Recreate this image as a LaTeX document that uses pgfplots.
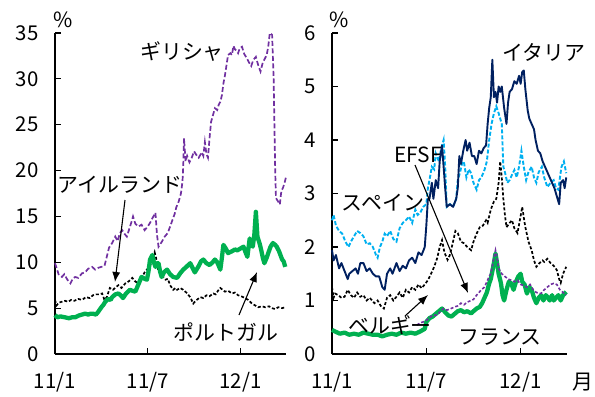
\documentclass[border=0pt]{standalone}
\usepackage{pgfplots}
\pgfplotsset{compat=1.18}
\usetikzlibrary{arrows.meta}
\usepackage{fontspec}
\setmainfont{Noto Sans CJK JP}
\definecolor{grpurple}{HTML}{7030A0}
\definecolor{ptgreen}{HTML}{00B050}
\definecolor{itnavy}{HTML}{002060}
\definecolor{esblue}{HTML}{00B0F0}
\pgfplotsset{
  common/.style={
    scale only axis,
    axis x line*=bottom, axis y line*=left,
    axis line style={line width=1.3bp, black},
    tick style={line width=1.2bp, black},
    tick align=inside, major tick length=6bp,
    enlargelimits=false, clip=false,
    xmin=0, xmax=14.95,
    xtick={0,6,12}, xticklabels={11/1,11/7,12/1},
    /pgf/number format/assume math mode=true,
    ticklabel style={font=\fontsize{20.5}{24}\selectfont},
    xticklabel style={anchor=center, yshift=-28bp},
    yticklabel style={anchor=east, xshift=-13bp},
  }
}
\begin{document}
\begin{tikzpicture}[x=1bp,y=1bp]
\useasboundingbox (0,0) rectangle (595,396);
% ---------- left panel ----------
\begin{axis}[common, at={(55bp,42bp)}, anchor=origin, width=231bp, height=321bp,
  ymin=0, ymax=35, ytick={0,5,...,35}]
\addplot[grpurple, line width=1.7bp, dash pattern=on 5bp off 2.5bp] coordinates {
(0,9.9)(0.1,9.4)(0.25,8.6)(0.45,8.4)(0.6,8.7)(0.8,8.1)(1.0,7.7)(1.15,8.2)(1.3,8.4)(1.5,8.3)(1.75,8.8)(1.95,8.9)(2.15,9.3)(2.4,9.5)(2.6,9.2)(2.8,9.4)(3.0,9.5)(3.2,9.6)(3.35,10.6)(3.5,11.6)(3.7,12.1)(3.9,12.8)(4.05,12.3)(4.2,13.2)(4.35,13.5)(4.5,13.1)(4.65,12.8)(4.8,13.6)(4.95,14.4)(5.05,15.0)(5.2,14.2)(5.4,13.9)(5.6,14.1)(5.8,13.5)(6.0,13.9)(6.15,14.3)(6.3,14.8)(6.5,15.4)(6.6,13.0)(6.7,11.7)(6.9,12.2)(7.1,12.8)(7.3,13.2)(7.45,13.9)(7.6,14.6)(7.75,15.3)(7.85,16.0)(8.0,16.6)(8.15,17.5)(8.25,18.8)(8.3,20.5)(8.35,23.5)(8.45,21.0)(8.55,21.6)(8.7,20.9)(8.85,21.4)(9.0,22.1)(9.15,21.7)(9.3,21.4)(9.5,22.0)(9.6,21.6)(9.7,23.1)(9.8,21.8)(9.9,21.4)(10.0,23.5)(10.1,25.3)(10.25,26.2)(10.35,26.8)(10.5,26.6)(10.6,27.2)(10.7,27.5)(10.8,28.2)(10.9,29.5)(11.0,30.4)(11.1,31.5)(11.2,32.6)(11.35,32.8)(11.45,32.6)(11.55,33.6)(11.65,33.2)(11.75,33.1)(11.85,32.8)(11.95,33.3)(12.1,33.5)(12.25,32.7)(12.4,32.3)(12.55,31.8)(12.7,31.4)(12.8,31.9)(12.9,32.2)(13.0,32.4)(13.15,31.5)(13.3,30.8)(13.45,31.8)(13.55,32.1)(13.7,32.6)(13.8,33.5)(13.9,35.0)(14.05,34.8)(14.15,30.0)(14.25,20.0)(14.3,17.0)(14.45,16.6)(14.55,16.3)(14.65,17.8)(14.75,18.1)(14.85,18.6)(14.95,19.3)
};
\addplot[black, line width=1.7bp, dash pattern=on 3bp off 2bp] coordinates {
(0,5.9)(0.1,5.3)(0.25,5.6)(0.45,5.7)(0.65,5.8)(0.85,5.7)(1.05,5.9)(1.25,5.8)(1.5,6.0)(1.75,5.9)(2.0,6.2)(2.25,6.1)(2.45,6.4)(2.65,6.5)(2.85,6.5)(3.05,6.6)(3.2,5.9)(3.35,6.2)(3.55,7.2)(3.75,7.0)(3.95,7.3)(4.1,7.5)(4.3,7.2)(4.55,7.7)(4.75,7.9)(4.9,8.1)(5.0,8.3)(5.2,7.9)(5.4,7.7)(5.6,8.3)(5.8,8.9)(6.0,9.3)(6.15,9.6)(6.3,10.3)(6.45,11.1)(6.55,10.4)(6.65,9.3)(6.8,8.8)(7.0,8.4)(7.15,8.1)(7.3,8.2)(7.45,7.5)(7.65,7.0)(7.8,7.2)(7.9,7.0)(8.1,7.2)(8.3,7.0)(8.5,6.7)(8.75,6.2)(8.95,5.5)(9.1,5.8)(9.25,6.0)(9.4,6.2)(9.6,6.1)(9.8,6.4)(10.0,6.3)(10.25,6.6)(10.4,6.5)(10.55,6.9)(10.7,7.2)(10.85,7.0)(11.0,6.8)(11.2,6.9)(11.45,6.6)(11.65,6.7)(11.85,6.4)(12.05,6.3)(12.3,6.1)(12.5,5.9)(12.75,5.5)(12.95,5.3)(13.15,5.1)(13.4,5.2)(13.6,5.1)(13.85,5.2)(14.05,5.0)(14.25,4.9)(14.45,5.1)(14.7,5.0)(14.9,5.1)
};
\addplot[ptgreen, line width=4.3bp, line join=round] coordinates {
(0,4.25)(0.15,4.0)(0.35,4.1)(0.65,4.0)(0.9,3.9)(1.1,4.0)(1.3,4.0)(1.55,4.2)(1.75,4.3)(1.95,4.4)(2.15,4.3)(2.3,4.4)(2.45,4.4)(2.65,4.3)(2.8,4.6)(3.0,5.1)(3.15,5.4)(3.25,5.7)(3.45,6.0)(3.6,5.9)(3.7,6.2)(3.9,6.5)(4.1,6.6)(4.25,6.4)(4.4,6.1)(4.6,6.6)(4.85,7.0)(5.0,6.9)(5.2,6.8)(5.4,7.6)(5.6,8.4)(5.8,8.2)(5.95,8.1)(6.05,9.0)(6.15,10.3)(6.3,10.8)(6.4,10.0)(6.5,9.5)(6.6,9.9)(6.7,9.9)(6.8,9.0)(6.9,8.4)(7.05,8.9)(7.25,9.2)(7.45,8.7)(7.65,8.4)(7.9,8.3)(8.1,8.8)(8.3,9.2)(8.5,9.5)(8.75,9.9)(8.9,9.4)(9.05,8.9)(9.3,9.6)(9.45,10.1)(9.6,10.3)(9.8,9.9)(10.0,9.7)(10.2,10.0)(10.35,10.3)(10.5,10.0)(10.7,9.2)(10.8,10.5)(10.9,11.9)(11.05,11.5)(11.2,11.0)(11.45,11.2)(11.65,11.4)(11.8,11.3)(12.0,11.5)(12.2,11.7)(12.35,11.0)(12.45,10.6)(12.6,12.6)(12.7,12.0)(12.8,11.7)(12.9,13.0)(13.0,15.5)(13.1,12.8)(13.25,12.0)(13.35,11.3)(13.45,10.5)(13.55,9.9)(13.7,10.5)(13.8,11.0)(13.95,11.7)(14.1,12.1)(14.25,11.9)(14.35,11.7)(14.5,11.2)(14.7,10.3)(14.8,10.1)(14.9,9.5)
};
\end{axis}
% ---------- right panel ----------
\begin{axis}[common, at={(332bp,42bp)}, anchor=origin, width=235bp, height=321bp,
  ymin=0, ymax=6, ytick={0,1,...,6}]
\addplot[esblue, line width=1.9bp, dash pattern=on 4bp off 2bp] coordinates {
(0,2.5)(0.1,2.6)(0.25,2.4)(0.45,2.3)(0.65,2.25)(0.85,2.1)(1.05,2.0)(1.2,2.1)(1.4,2.2)(1.6,2.3)(1.8,2.26)(2.0,2.2)(2.2,2.05)(2.4,2.07)(2.6,2.0)(2.8,1.85)(2.9,1.8)(3.05,2.0)(3.2,2.1)(3.35,2.25)(3.5,2.2)(3.7,2.3)(3.9,2.15)(4.1,2.1)(4.3,2.35)(4.5,2.45)(4.7,2.5)(4.9,2.57)(5.1,2.45)(5.3,2.7)(5.45,2.6)(5.6,2.63)(5.8,2.75)(6.0,2.8)(6.1,3.1)(6.2,3.25)(6.35,3.5)(6.5,3.45)(6.6,3.75)(6.8,3.6)(6.95,3.85)(7.1,4.0)(7.2,3.5)(7.3,2.75)(7.5,2.8)(7.7,2.75)(7.9,2.9)(8.0,3.25)(8.15,3.4)(8.3,3.6)(8.4,3.57)(8.55,3.3)(8.7,3.45)(8.85,3.38)(9.0,3.2)(9.2,3.07)(9.35,3.25)(9.5,3.3)(9.7,3.44)(9.85,3.6)(10.0,4.0)(10.15,4.3)(10.3,4.5)(10.45,4.63)(10.6,4.5)(10.7,4.4)(10.8,4.3)(10.9,3.5)(11.0,3.4)(11.15,3.2)(11.3,3.25)(11.45,3.35)(11.6,3.44)(11.75,3.3)(11.9,3.5)(12.05,3.8)(12.2,3.5)(12.35,3.25)(12.5,3.4)(12.7,3.5)(12.85,3.3)(13.0,3.2)(13.15,3.4)(13.35,3.5)(13.5,3.3)(13.7,3.12)(13.9,3.2)(14.1,3.25)(14.25,3.1)(14.4,3.07)(14.5,3.3)(14.6,3.5)(14.75,3.6)(14.9,3.38)
};
\addplot[itnavy, line width=1.9bp, line join=round] coordinates {
(0,1.94)(0.1,1.75)(0.25,1.85)(0.45,1.6)(0.6,1.7)(0.8,1.55)(1.0,1.4)(1.1,1.5)(1.3,1.55)(1.5,1.6)(1.65,1.5)(1.8,1.7)(2.0,1.7)(2.2,1.55)(2.4,1.6)(2.6,1.5)(2.8,1.45)(3.0,1.45)(3.2,1.25)(3.35,1.2)(3.5,1.5)(3.7,1.6)(3.85,1.5)(4.1,1.7)(4.3,1.55)(4.5,1.65)(4.7,1.6)(4.9,1.75)(5.1,1.8)(5.3,1.7)(5.5,1.9)(5.7,1.85)(5.9,2.0)(6.0,2.4)(6.1,2.9)(6.2,2.9)(6.35,3.2)(6.45,2.9)(6.6,3.25)(6.75,3.1)(6.85,3.6)(7.0,3.9)(7.1,3.5)(7.2,3.1)(7.3,2.75)(7.5,2.8)(7.7,2.75)(7.9,2.9)(8.0,3.1)(8.1,3.7)(8.2,3.55)(8.35,3.8)(8.5,4.0)(8.6,3.8)(8.75,3.95)(8.9,3.7)(9.05,3.7)(9.2,3.55)(9.35,3.8)(9.5,3.75)(9.65,3.85)(9.8,3.9)(9.9,4.3)(10.0,4.6)(10.1,4.8)(10.2,5.5)(10.3,4.8)(10.4,4.9)(10.5,4.7)(10.6,5.0)(10.7,4.9)(10.8,5.0)(10.95,4.6)(11.1,4.3)(11.2,4.7)(11.3,4.9)(11.45,4.95)(11.6,5.1)(11.75,5.05)(11.9,5.2)(12.0,5.05)(12.1,5.27)(12.2,5.3)(12.3,4.95)(12.45,4.55)(12.55,4.4)(12.7,4.3)(12.85,4.2)(12.95,4.0)(13.1,3.8)(13.25,3.75)(13.4,3.6)(13.55,3.5)(13.7,3.4)(13.85,3.3)(14.0,3.2)(14.15,3.1)(14.3,2.95)(14.45,2.8)(14.55,3.2)(14.7,3.25)(14.8,3.1)(14.9,3.3)
};
\addplot[black, line width=1.7bp, dash pattern=on 3bp off 2bp] coordinates {
(0,1.25)(0.1,1.05)(0.2,1.13)(0.4,1.1)(0.6,1.05)(0.8,1.07)(1.0,1.2)(1.2,1.1)(1.4,1.05)(1.6,1.15)(1.8,1.07)(2.0,1.1)(2.2,1.0)(2.4,1.05)(2.7,0.95)(2.9,1.0)(3.1,0.9)(3.3,0.85)(3.5,1.05)(3.7,1.1)(3.9,1.0)(4.1,1.07)(4.3,1.15)(4.5,1.05)(4.7,1.2)(4.9,1.15)(5.1,1.25)(5.3,1.2)(5.5,1.3)(5.7,1.23)(5.9,1.3)(6.1,1.38)(6.3,1.5)(6.5,1.63)(6.7,1.8)(6.85,2.0)(7.0,2.13)(7.15,1.9)(7.35,1.76)(7.5,1.85)(7.7,2.1)(7.85,2.3)(8.0,2.26)(8.2,2.1)(8.4,2.07)(8.6,2.0)(8.85,1.94)(9.0,2.1)(9.2,2.25)(9.4,2.37)(9.6,2.4)(9.8,2.5)(9.9,2.45)(10.1,2.7)(10.3,2.85)(10.45,2.9)(10.6,3.2)(10.7,3.6)(10.8,3.3)(10.9,2.9)(11.0,2.6)(11.1,2.37)(11.3,2.45)(11.45,2.5)(11.6,2.35)(11.8,2.26)(11.95,2.5)(12.1,2.75)(12.2,2.55)(12.3,2.37)(12.5,2.1)(12.7,1.94)(12.85,1.75)(13.0,1.63)(13.2,1.7)(13.4,1.75)(13.5,1.72)(13.7,1.78)(13.9,1.7)(14.1,1.65)(14.3,1.57)(14.45,1.4)(14.55,1.33)(14.7,1.5)(14.9,1.63)
};
\addplot[ptgreen, line width=4.3bp, line join=round] coordinates {
(0,0.45)(0.2,0.42)(0.5,0.38)(0.8,0.4)(1.1,0.36)(1.4,0.38)(1.7,0.36)(2.0,0.4)(2.3,0.38)(2.6,0.36)(2.9,0.36)(3.2,0.33)(3.5,0.36)(3.8,0.38)(4.1,0.36)(4.4,0.4)(4.7,0.38)(5.0,0.4)(5.3,0.38)(5.6,0.42)(5.9,0.47)(6.0,0.6)(6.2,0.67)(6.4,0.7)(6.6,0.75)(6.8,0.8)(7.0,0.85)(7.2,0.78)(7.4,0.72)(7.6,0.7)(7.8,0.75)(8.0,0.8)(8.2,0.82)(8.4,0.78)(8.6,0.8)(8.85,0.76)(9.0,0.8)(9.2,0.85)(9.4,0.88)(9.55,0.95)(9.7,1.05)(9.85,1.15)(10.0,1.32)(10.1,1.4)(10.2,1.55)(10.3,1.7)(10.4,1.88)(10.5,1.7)(10.6,1.5)(10.75,1.32)(10.85,1.1)(10.95,1.0)(11.1,1.2)(11.25,1.35)(11.4,1.32)(11.55,1.2)(11.7,1.35)(11.85,1.45)(12.0,1.5)(12.1,1.35)(12.25,1.3)(12.4,1.13)(12.55,1.25)(12.7,1.2)(12.85,1.05)(13.0,0.95)(13.15,1.05)(13.3,1.1)(13.45,1.0)(13.6,1.1)(13.7,1.07)(13.85,1.0)(14.0,1.1)(14.1,1.0)(14.25,1.05)(14.4,1.1)(14.55,1.0)(14.7,1.1)(14.9,1.16)
};
\addplot[grpurple, line width=1.6bp, dash pattern=on 3bp off 2bp] coordinates {
(5.4,0.54)(5.6,0.58)(5.8,0.6)(6.0,0.63)(6.2,0.68)(6.4,0.72)(6.7,0.73)(6.9,0.8)(7.1,0.85)(7.3,0.82)(7.5,0.84)(7.8,0.88)(8.0,0.9)(8.2,0.95)(8.4,0.92)(8.6,0.97)(8.85,1.0)(9.0,1.02)(9.2,1.1)(9.35,1.15)(9.5,1.2)(9.7,1.25)(9.85,1.35)(10.0,1.45)(10.1,1.5)(10.2,1.65)(10.3,1.8)(10.4,1.94)(10.5,1.8)(10.6,1.6)(10.7,1.55)(10.8,1.5)(11.0,1.45)(11.2,1.4)(11.4,1.38)(11.6,1.35)(11.8,1.38)(12.0,1.3)(12.2,1.28)(12.4,1.25)(12.6,1.3)(12.8,1.2)(13.0,1.15)(13.3,1.13)(13.5,1.2)(13.7,1.25)(13.9,1.3)(14.1,1.32)(14.3,1.3)(14.5,1.2)(14.7,1.15)(14.9,1.1)
};
\end{axis}
% ---------- annotations ----------
\tikzset{lbl/.style={font=\fontsize{21}{24}\selectfont, inner sep=0pt},
  arr/.style={-{Latex[length=10bp,width=8bp]}, line width=1.1bp}}
\node[lbl] at (63,376) {\%};
\node[lbl] at (339,376) {\%};
\node[lbl] at (182,344) {ギリシャ};
\node[lbl] at (120,211) {アイルランド};
\draw[arr] (125,196) -- (115,114);
\node[lbl] at (226,64) {ポルトガル};
\draw[arr] (239,81) -- (257,124);
\node[lbl] at (544,344) {イタリア};
\node[lbl] at (418,241) {EFSF};
\draw[arr] (415,231) -- (468,103);
\node[lbl] at (383,193) {スペイン};
\node[lbl] at (390,71) {ベルギー};
\draw[arr] (405,80) -- (428,101);
\node[lbl] at (500,59) {フランス};
\node[lbl] at (583,14) {月};
\end{tikzpicture}
\end{document}
